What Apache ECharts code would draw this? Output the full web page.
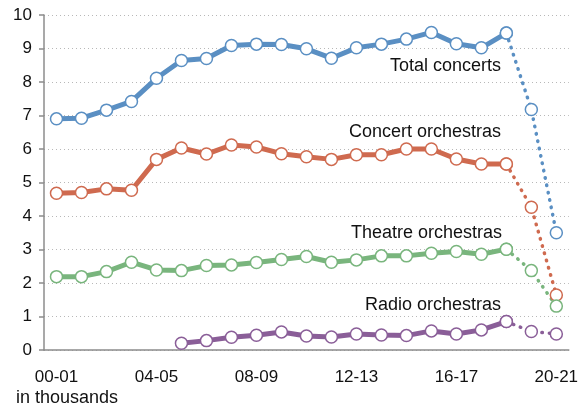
<!DOCTYPE html>
<html>
<head>
<meta charset="utf-8">
<script src="https://cdn.jsdelivr.net/npm/echarts@6/dist/echarts.min.js"></script>
<style>
  html, body { margin: 0; padding: 0; background: #fff; }
  #chart { width: 581px; height: 415px; }
</style>
</head>
<body>
<div id="chart"></div>
<script>
// seasons 00-01 .. 20-21
var seasons = ['00-01','01-02','02-03','03-04','04-05','05-06','06-07','07-08','08-09','09-10',
  '10-11','11-12','12-13','13-14','14-15','15-16','16-17','17-18','18-19','19-20','20-21'];

// in thousands
var totalConcerts = [6.9, 6.92, 7.16, 7.42, 8.11, 8.64, 8.7, 9.09, 9.13, 9.12,
  8.99, 8.71, 9.02, 9.13, 9.28, 9.48, 9.14, 9.02, 9.46, 7.18, 3.5];
var concertOrch = [4.68, 4.7, 4.81, 4.77, 5.69, 6.03, 5.85, 6.12, 6.06, 5.86,
  5.77, 5.69, 5.83, 5.83, 6.0, 6.0, 5.7, 5.55, 5.55, 4.26, 1.64];
var theatreOrch = [2.19, 2.19, 2.34, 2.62, 2.39, 2.37, 2.52, 2.54, 2.61, 2.7,
  2.79, 2.62, 2.69, 2.81, 2.81, 2.89, 2.94, 2.86, 3.01, 2.37, 1.31];
var radioOrch = [null, null, null, null, null, 0.2, 0.28, 0.38, 0.44, 0.54,
  0.42, 0.39, 0.48, 0.45, 0.43, 0.57, 0.48, 0.6, 0.85, 0.55, 0.48];

var seriesNames = ['Total concerts', 'Concert orchestras', 'Theatre orchestras', 'Radio orchestras'];
var colors = ['#5a8fc3', '#cf6a4f', '#79b57d', '#8a5e98'];
var lastSolid = 18; // 18-19, after that dotted (covid seasons)

var myChart = echarts.init(document.getElementById('chart'));

function solidPart(arr) {
  return arr.map(function(v, i) { return i <= lastSolid ? v : null; });
}
function dottedPart(arr) {
  return arr.map(function(v, i) { return i >= lastSolid ? v : null; });
}

var series = [];
[totalConcerts, concertOrch, theatreOrch, radioOrch].forEach(function(arr, k) {
  // dotted tail first so the solid markers sit on top
  series.push({
    name: seriesNames[k] + ' (dotted)',
    type: 'line',
    data: dottedPart(arr),
    symbol: 'circle',
    symbolSize: 12,
    showAllSymbol: true,
    itemStyle: { color: '#fff', borderColor: colors[k], borderWidth: 1.5 },
    lineStyle: { color: colors[k], width: 3.5, type: [0.5, 7], cap: 'round' },
    z: 2,
    animation: false
  });
  series.push({
    name: seriesNames[k],
    type: 'line',
    data: solidPart(arr),
    symbol: 'circle',
    symbolSize: 12,
    showAllSymbol: true,
    itemStyle: { color: '#fff', borderColor: colors[k], borderWidth: 1.5 },
    lineStyle: { color: colors[k], width: 5 },
    z: 3,
    animation: false
  });
});

var option = {
  backgroundColor: '#fff',
  grid: { left: 44, right: 9, top: 15, bottom: 65 },
  xAxis: {
    type: 'category',
    data: seasons,
    boundaryGap: true,
    axisLine: { lineStyle: { color: '#8c8c8c', width: 1.5 } },
    axisTick: { alignWithLabel: true, interval: 0, length: 6, lineStyle: { color: '#8c8c8c', width: 1.5 } },
    axisLabel: { interval: 3, color: '#111', fontSize: 17, margin: 19, fontFamily: 'Liberation Sans' }
  },
  yAxis: {
    type: 'value',
    min: 0,
    max: 10,
    interval: 1,
    axisLine: { show: true, lineStyle: { color: '#8c8c8c', width: 1.5 } },
    axisTick: { show: true, length: 5, lineStyle: { color: '#8c8c8c', width: 1.5 } },
    axisLabel: { color: '#111', fontSize: 17, margin: 12, fontFamily: 'Liberation Sans' },
    splitLine: { lineStyle: { color: '#b8b8b8', type: [1, 3], width: 1 } }
  },
  graphic: [
    { type: 'text', right: 80, top: 57, style: { text: 'Total concerts', fontSize: 18, fill: '#111', fontFamily: 'Liberation Sans' } },
    { type: 'text', right: 80, top: 123, style: { text: 'Concert orchestras', fontSize: 18, fill: '#111', fontFamily: 'Liberation Sans' } },
    { type: 'text', right: 79, top: 224, style: { text: 'Theatre orchestras', fontSize: 18, fill: '#111', fontFamily: 'Liberation Sans' } },
    { type: 'text', right: 80, top: 296, style: { text: 'Radio orchestras', fontSize: 18, fill: '#111', fontFamily: 'Liberation Sans' } },
    { type: 'text', left: 16, top: 389, style: { text: 'in thousands', fontSize: 18, fill: '#111', fontFamily: 'Liberation Sans' } }
  ],
  series: series
};

myChart.setOption(option, true);
</script>
</body>
</html>
